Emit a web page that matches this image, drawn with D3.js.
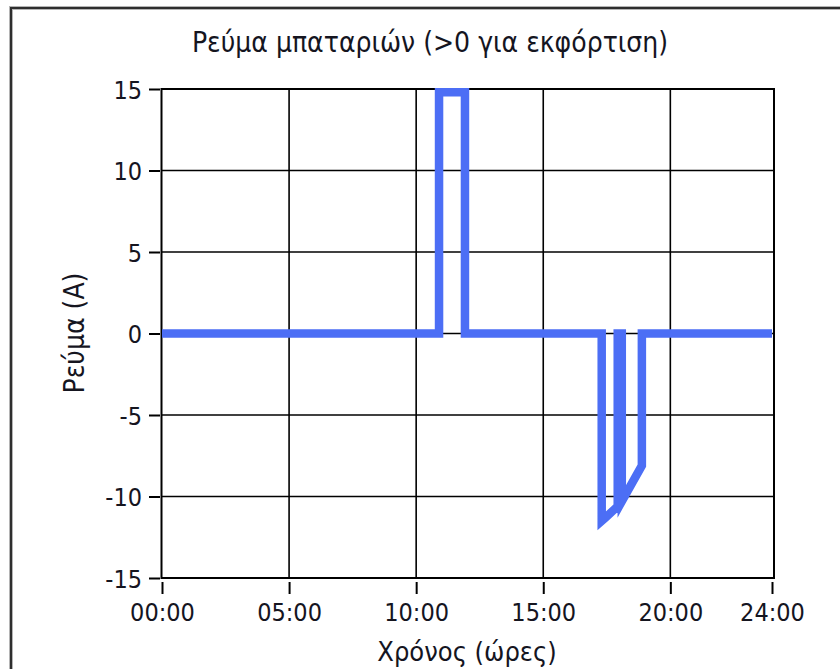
<!DOCTYPE html>
<html>
<head>
<meta charset="utf-8">
<script src="https://cdn.jsdelivr.net/npm/d3@7/dist/d3.min.js"></script>
<style>
  html, body { margin: 0; padding: 0; background: #fff; }
  svg { display: block; }
</style>
</head>
<body>
<svg id="chart" width="840" height="669"></svg>
<script>
// Battery current over one day (positive = discharging)
const hours   = [0, 10.9, 10.9, 11.92, 11.92, 17.3, 17.3, 17.45, 17.93, 17.93, 18.09, 18.09, 18.88, 18.88, 24];
const current = [0, 0,    14.8, 14.8,  0,     0,    -11.5, -11.3, -10.6, 0,    0,     -10.3, -8.1,  0,     0];

const yTicks = [-15, -10, -5, 0, 5, 10, 15];
const xTicks = [0, 5, 10, 15, 20, 24];
const xTickLabels = ["00:00", "05:00", "10:00", "15:00", "20:00", "24:00"];

const titleText = "Ρεύμα μπαταριών (>0 για εκφόρτιση)";
const xLabelText = "Χρόνος (ώρες)";
const yLabelText = "Ρεύμα (A)";

const FONT = "'DejaVu Sans Condensed','Liberation Sans Narrow',sans-serif";
const INK = "#15151f";
const LINE = "#4c6ef5";

const svg = d3.select("#chart");

// Outer panel frame
svg.append("rect")
  .attr("x", 11).attr("y", 8).attr("width", 900).attr("height", 700)
  .attr("fill", "none").attr("stroke", "#b4b4b4").attr("stroke-width", 4);
svg.append("rect")
  .attr("x", 11).attr("y", 8).attr("width", 900).attr("height", 700)
  .attr("fill", "none").attr("stroke", "#2e2e2e").attr("stroke-width", 2);

const plot = { left: 162, right: 772, top: 89, bottom: 578 };

const x = d3.scaleLinear().domain([0, 24]).range([plot.left, plot.right]);
const y = d3.scaleLinear().domain([-15, 15]).range([plot.bottom, plot.top]);

// Grid
const grid = svg.append("g").attr("stroke", "#000").attr("stroke-width", 1.6);
grid.selectAll("line.h").data(yTicks.filter(v => v > -15 && v < 15)).join("line")
  .attr("class", "h")
  .attr("x1", plot.left).attr("x2", plot.right + 2)
  .attr("y1", d => y(d)).attr("y2", d => y(d));
grid.selectAll("line.v").data(xTicks.filter(v => v > 0 && v < 24)).join("line")
  .attr("class", "v")
  .attr("x1", d => x(d)).attr("x2", d => x(d))
  .attr("y1", plot.top).attr("y2", plot.bottom);

// Plot frame
svg.append("rect")
  .attr("x", plot.left - 0.5).attr("y", plot.top)
  .attr("width", plot.right + 2 - plot.left + 0.5).attr("height", plot.bottom - plot.top)
  .attr("fill", "none").attr("stroke", "#000").attr("stroke-width", 2);

// Axes
const yAxis = svg.append("g")
  .attr("transform", `translate(${plot.left - 2},0)`)
  .call(d3.axisLeft(y).tickValues(yTicks).tickSize(11).tickPadding(7).tickFormat(d => String(d)));
const xAxis = svg.append("g")
  .attr("transform", `translate(0,${plot.bottom + 4})`)
  .call(d3.axisBottom(x).tickValues(xTicks).tickSize(12).tickPadding(9)
    .tickFormat((d, i) => xTickLabels[i]));

[yAxis, xAxis].forEach(g => {
  g.select(".domain").remove();
  g.selectAll(".tick line").attr("stroke", "#000").attr("stroke-width", 2);
  g.selectAll(".tick text")
    .attr("fill", INK)
    .style("font-family", FONT)
    .style("font-size", "25px");
});
yAxis.selectAll(".tick text").attr("dy", "0.36em");
xAxis.selectAll(".tick text").attr("dy", "0.72em");

// Data line
const line = d3.line().x((d, i) => x(hours[i])).y((d, i) => y(current[i]));
svg.append("path")
  .datum(current)
  .attr("d", line)
  .attr("fill", "none")
  .attr("stroke", LINE)
  .attr("stroke-width", 8.5)
  .attr("stroke-linejoin", "miter")
  .attr("stroke-linecap", "butt");

// Titles
svg.append("text")
  .attr("x", 430).attr("y", 52)
  .attr("text-anchor", "middle")
  .attr("fill", INK)
  .style("font-family", FONT).style("font-size", "28px")
  .text(titleText);

svg.append("text")
  .attr("x", 467).attr("y", 661)
  .attr("text-anchor", "middle")
  .attr("fill", INK)
  .style("font-family", FONT).style("font-size", "27px")
  .text(xLabelText);

svg.append("text")
  .attr("transform", "translate(84,333) rotate(-90)")
  .attr("text-anchor", "middle")
  .attr("fill", INK)
  .style("font-family", FONT).style("font-size", "28px")
  .text(yLabelText);
</script>
</body>
</html>
